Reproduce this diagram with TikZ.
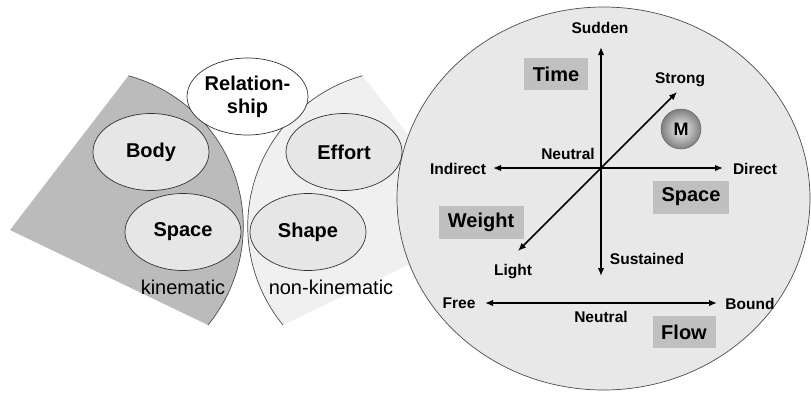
\documentclass[tikz,border=0pt]{standalone}
\usepackage{fontspec}
\setmainfont{Liberation Sans}
\usetikzlibrary{shapes.geometric}
\usetikzlibrary{arrows.meta}

\begin{document}
\begin{tikzpicture}[x=1pt, y=1pt,
				every text node part/.style={align=center},
				rim/.style={draw=black!70, line width=0.7pt},
				part/.style={ellipse, draw=black!80, line width=0.7pt, fill=partfill, inner sep=0pt, minimum width=116pt, minimum height=77pt, font=\fontsize{20}{23}\selectfont\bfseries},
				tag/.style={rectangle, fill=tagfill, inner sep=0pt, minimum height=32pt, font=\fontsize{20}{23}\selectfont\bfseries},
				pole/.style={inner sep=1pt, font=\fontsize{15.5}{17}\selectfont\bfseries},
				kind/.style={inner sep=1pt, font=\fontsize{20}{23}\selectfont},
				arrow/.style={-{Latex[length=8pt, width=6.5pt]}, line width=1.5pt},
				biarrow/.style={{Latex[length=8pt, width=6.5pt]}-{Latex[length=8pt, width=6.5pt]}, line width=1.5pt}]

					\definecolor{kinfill}{RGB}{187,187,187}
					\definecolor{nonkinfill}{RGB}{240,240,240}
					\definecolor{partfill}{RGB}{230,230,230}
					\definecolor{effortfill}{RGB}{232,232,232}
					\definecolor{tagfill}{RGB}{192,192,192}

					\useasboundingbox (0,0) rectangle (811,-392);

					\fill[kinfill] (10,-230) -- (208,-325) arc[start angle=-39.3, end angle=74.7, radius=156pt] -- cycle;
					\draw[rim] (208,-325) arc[start angle=-39.3, end angle=74.7, radius=156pt];
					\fill[nonkinfill] (363,-76) -- (481,-230) -- (283,-325) arc[start angle=219.3, end angle=105.3, radius=156pt] -- cycle;
					\draw[rim] (283,-325) arc[start angle=219.3, end angle=105.3, radius=156pt];

					\node[ellipse, rim, fill=effortfill, inner sep=0pt, minimum width=413pt, minimum height=383pt] (effortspace) at (603.5,-198.5) {};

					\node[part, fill=white] (relationship) at (247.5,-96.5) {Relation-\\ship};
					\node[part] (body) at (151,-152) {Body};
					\node[part] (space) at (183,-232) {Space};
					\node[part] (effort) at (344,-152) {Effort};
					\node[part] (shape) at (308,-232) {Shape};
					\node[kind] (kinematic) at (183,-287) {kinematic};
					\node[kind] (nonkinematic) at (331,-287) {non-kinematic};

					\node[tag, minimum width=64pt] (timetag) at (556,-74) {Time};
					\node[tag, minimum width=76pt, minimum height=33pt] (spacetag) at (691,-197) {Space};
					\node[tag, minimum width=85pt, minimum height=33pt] (weighttag) at (481,-222) {Weight};
					\node[tag, minimum width=63pt] (flowtag) at (684,-332) {Flow};

					\node[pole] (sudden) at (600,-28) {Sudden};
					\node[pole] (strong) at (680,-80) {Strong};
					\node[pole] (neutral) at (568,-154) {Neutral};
					\node[pole] (indirect) at (458,-169) {Indirect};
					\node[pole] (direct) at (755,-169) {Direct};
					\node[pole] (sustained) at (647,-259) {Sustained};
					\node[pole] (light) at (513,-271.5) {Light};
					\node[pole] (free) at (459,-303.5) {Free};
					\node[pole] (bound) at (750,-303.5) {Bound};
					\node[pole] (flowneutral) at (601,-316.5) {Neutral};

					\node[circle, draw=black!60, line width=0.5pt, shading=radial, inner color=black!5, outer color=black!50, inner sep=0pt, minimum size=40pt, font=\fontsize{18}{20}\selectfont\bfseries] (mover) at (681,-129) {M};

					\coordinate (origin) at (601,-168);
					\coordinate (suddentip) at (601,-47);
					\coordinate (sustainedtip) at (601,-276);
					\coordinate (indirecttip) at (493,-168);
					\coordinate (directtip) at (723,-168);
					\coordinate (strongtip) at (677,-92);
					\coordinate (lighttip) at (518,-251);
					\coordinate (freetip) at (485,-303);
					\coordinate (boundtip) at (717,-303);

					\draw (origin) edge [arrow] (suddentip);
					\draw (origin) edge [arrow] (sustainedtip);
					\draw (origin) edge [arrow] (indirecttip);
					\draw (origin) edge [arrow] (directtip);
					\draw (origin) edge [arrow] (strongtip);
					\draw (origin) edge [arrow] (lighttip);
					\draw (freetip) edge [biarrow] (boundtip);
				\end{tikzpicture}
\end{document}
